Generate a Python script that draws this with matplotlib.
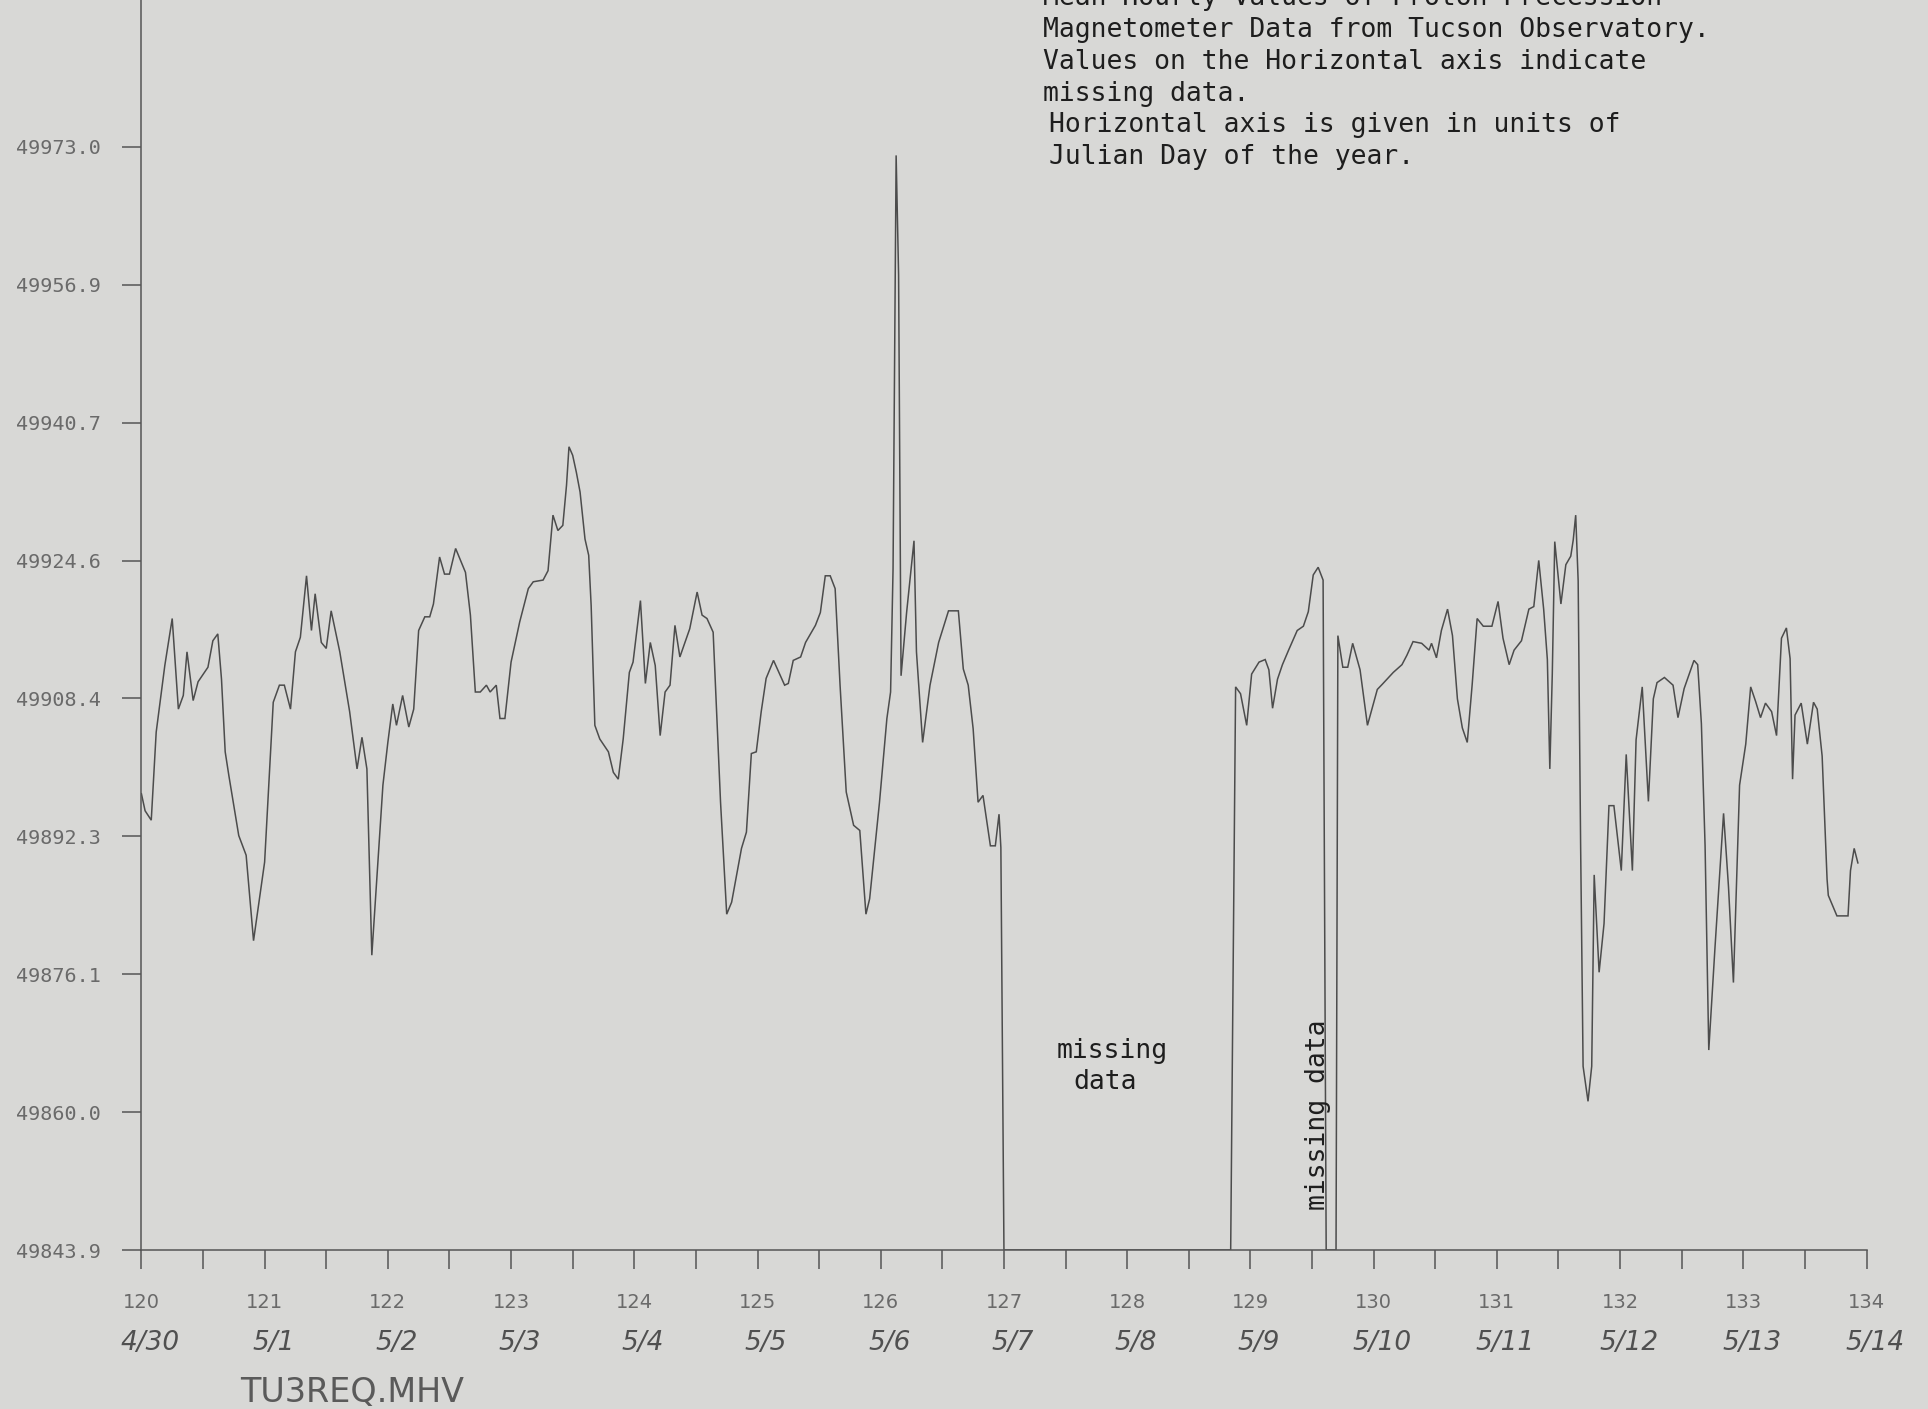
#!/usr/bin/env python3

import matplotlib; matplotlib.use('Agg')
import numpy as np
from matplotlib import pyplot as plt
from matplotlib.ticker import MultipleLocator, FixedLocator

plt.rcParams.update({
    'font.family': 'DejaVu Sans',
    'axes.linewidth': 1.1,
})

PAPER = '#d8d8d6'
PEN = '#4c4c4c'
INK = '#1e1e1e'
GREY = '#6a6a6a'

# Mean hourly field (nT), Tucson proton precession magnetometer.
# NaN = missing hour (the plotter puts those on the horizontal axis).
DAY = [
    120.00, 120.03, 120.08, 120.12, 120.19, 120.25, 120.30, 120.34, 120.37, 120.42,
    120.46, 120.54, 120.58, 120.62, 120.65, 120.68, 120.71, 120.79, 120.85, 120.91,
    121.00, 121.07, 121.12, 121.16, 121.21, 121.25, 121.29, 121.34, 121.38, 121.41,
    121.46, 121.50, 121.54, 121.61, 121.69, 121.75, 121.79, 121.83, 121.87, 121.96,
    122.00, 122.04, 122.07, 122.12, 122.17, 122.21, 122.25, 122.30, 122.34, 122.37,
    122.42, 122.46, 122.50, 122.55, 122.63, 122.67, 122.71, 122.75, 122.80, 122.83,
    122.88, 122.91, 122.95, 123.00, 123.07, 123.14, 123.18, 123.26, 123.30, 123.34,
    123.38, 123.42, 123.45, 123.47, 123.50, 123.53, 123.56, 123.60, 123.63, 123.65,
    123.68, 123.72, 123.79, 123.83, 123.87, 123.91, 123.96, 123.99, 124.05, 124.09,
    124.13, 124.17, 124.21, 124.25, 124.29, 124.33, 124.37, 124.45, 124.51, 124.55,
    124.59, 124.64, 124.67, 124.70, 124.75, 124.79, 124.87, 124.91, 124.95, 124.99,
    125.03, 125.07, 125.13, 125.22, 125.25, 125.29, 125.35, 125.39, 125.47, 125.51,
    125.55, 125.59, 125.63, 125.67, 125.72, 125.78, 125.83, 125.88, 125.91, 125.99,
    126.05, 126.08, 126.10, 126.125, 126.145, 126.165, 126.21, 126.27, 126.29, 126.34,
    126.40, 126.47, 126.55, 126.63, 126.67, 126.71, 126.75, 126.79, 126.83, 126.89,
    126.93, 126.96, 126.975, 127.00, 128.84, 128.88, 128.92, 128.97, 129.01, 129.07,
    129.12, 129.15, 129.18, 129.22, 129.26, 129.31, 129.38, 129.43, 129.47, 129.51,
    129.55, 129.59, 129.615, 129.695, 129.71, 129.75, 129.79, 129.83, 129.89, 129.95,
    130.03, 130.07, 130.16, 130.23, 130.27, 130.32, 130.39, 130.45, 130.47, 130.51,
    130.55, 130.60, 130.64, 130.68, 130.72, 130.76, 130.80, 130.84, 130.89, 130.96,
    131.01, 131.05, 131.10, 131.14, 131.20, 131.26, 131.30, 131.34, 131.38, 131.41,
    131.43, 131.45, 131.47, 131.52, 131.56, 131.60, 131.62, 131.64, 131.66, 131.68,
    131.70, 131.74, 131.77, 131.79, 131.83, 131.87, 131.91, 131.95, 132.01, 132.05,
    132.10, 132.13, 132.18, 132.23, 132.27, 132.30, 132.36, 132.43, 132.47, 132.52,
    132.60, 132.63, 132.66, 132.69, 132.72, 132.77, 132.84, 132.88, 132.92, 132.97,
    133.02, 133.06, 133.10, 133.14, 133.18, 133.23, 133.27, 133.31, 133.35, 133.38,
    133.40, 133.42, 133.47, 133.52, 133.57, 133.60, 133.64, 133.68, 133.69, 133.76,
    133.85, 133.87, 133.90, 133.93,
]
FIELD = [
    49897.3, 49895.3, 49894.2, 49904.5, 49912.3, 49917.8, 49907.2, 49908.8, 49913.9, 49908.2,
    49910.4, 49912.1, 49915.2, 49916.0, 49910.7, 49902.2, 49899.4, 49892.4, 49890.1, 49880.1,
    49889.3, 49908.0, 49910.0, 49910.0, 49907.2, 49913.9, 49915.6, 49922.8, 49916.4, 49920.7,
    49915.0, 49914.3, 49918.7, 49913.9, 49906.9, 49900.2, 49903.9, 49900.2, 49878.4, 49898.3,
    49903.3, 49907.8, 49905.3, 49908.8, 49905.1, 49907.2, 49916.4, 49918.0, 49918.0, 49919.5,
    49925.0, 49923.0, 49923.0, 49926.0, 49923.2, 49918.2, 49909.2, 49909.2, 49910.0, 49909.2,
    49910.0, 49906.1, 49906.1, 49912.7, 49917.4, 49921.3, 49922.1, 49922.3, 49923.4, 49929.9,
    49928.1, 49928.7, 49933.4, 49937.9, 49936.9, 49934.9, 49932.6, 49927.1, 49925.2, 49919.3,
    49905.3, 49903.7, 49902.2, 49899.8, 49899.0, 49903.7, 49911.5, 49912.7, 49919.9, 49910.2,
    49915.0, 49912.3, 49904.1, 49909.2, 49910.0, 49917.0, 49913.3, 49916.6, 49920.9, 49918.2,
    49917.8, 49916.2, 49906.1, 49896.3, 49883.2, 49884.6, 49890.9, 49892.8, 49902.0, 49902.2,
    49906.9, 49910.8, 49912.9, 49910.0, 49910.2, 49912.9, 49913.3, 49915.0, 49917.0, 49918.5,
    49922.8, 49922.8, 49921.3, 49910.0, 49897.5, 49893.6, 49893.0, 49883.2, 49885.0, 49896.3,
    49906.1, 49909.2, 49923.6, 49972.0, 49958.0, 49911.1, 49918.5, 49926.9, 49913.9, 49903.3,
    49910.0, 49915.0, 49918.7, 49918.7, 49911.9, 49910.0, 49904.9, 49896.3, 49897.1, 49891.2,
    49891.2, 49894.9, 49891.0, np.nan, np.nan, 49909.8, 49909.0, 49905.3, 49911.3, 49912.7,
    49913.0, 49911.8, 49907.3, 49910.7, 49912.4, 49914.1, 49916.4, 49916.9, 49918.6, 49922.9,
    49923.8, 49922.3, np.nan, np.nan, 49915.8, 49912.1, 49912.1, 49914.9, 49911.8, 49905.3,
    49909.5, 49910.1, 49911.5, 49912.4, 49913.5, 49915.1, 49914.9, 49914.1, 49914.9, 49913.2,
    49916.4, 49918.9, 49915.8, 49908.4, 49905.0, 49903.3, 49910.1, 49917.8, 49916.9, 49916.9,
    49919.8, 49915.5, 49912.4, 49914.1, 49915.2, 49918.9, 49919.2, 49924.6, 49918.9, 49913.0,
    49900.2, 49911.3, 49926.8, 49919.5, 49924.1, 49925.1, 49927.0, 49929.9, 49922.2, 49891.2,
    49865.4, 49861.3, 49865.4, 49887.8, 49876.4, 49882.1, 49895.9, 49895.9, 49888.3, 49901.9,
    49888.3, 49903.6, 49909.8, 49896.4, 49908.4, 49910.3, 49910.9, 49910.0, 49906.2, 49909.6,
    49912.9, 49912.4, 49905.5, 49891.2, 49867.3, 49879.2, 49895.0, 49886.4, 49875.2, 49898.3,
    49903.1, 49909.8, 49908.1, 49906.2, 49907.9, 49906.9, 49904.1, 49915.5, 49916.7, 49913.1,
    49899.0, 49906.5, 49907.9, 49903.1, 49908.0, 49907.2, 49901.7, 49887.3, 49885.4, 49883.0,
    49883.0, 49888.3, 49890.9, 49889.2,
]

Y_TICK_LABELS = ['49843.9', '49860.0', '49876.1', '49892.3', '49908.4',
                 '49924.6', '49940.7', '49956.9', '49973.0']
Y_MIN, Y_MAX = 49843.9, 49973.0
X_DAYS = list(range(120, 135))
DATES = ['4/30', '5/1', '5/2', '5/3', '5/4', '5/5', '5/6', '5/7',
         '5/8', '5/9', '5/10', '5/11', '5/12', '5/13', '5/14']

NOTE = ['Mean Hourly Values of Proton Precession',
        'Magnetometer Data from Tucson Observatory.',
        'Values on the Horizontal axis indicate',
        'missing data.']
NOTE2 = ['Horizontal axis is given in units of',
         'Julian Day of the year.']

# Plot -----------------------------------------------------------------------
W, H = 1928, 1409
fig = plt.figure(figsize=(W / 100, H / 100), dpi=100, facecolor=PAPER)
ax = fig.add_axes([141.4 / W, 1 - 1250 / H, 1725.1 / W, 1250 / H])
ax.set_facecolor(PAPER)

field = np.array(FIELD, dtype=float)
field = np.where(np.isnan(field), Y_MIN, field)
ax.plot(DAY, field, color=PEN, lw=1.1, solid_joinstyle='miter')

ax.set_xlim(120, 134)
ax.set_ylim(Y_MIN, Y_MIN + 1250 / 8.545)

for side in ['top', 'right']:
    ax.spines[side].set_visible(False)
for side in ['left', 'bottom']:
    ax.spines[side].set_color('#555555')

ax.yaxis.set_major_locator(FixedLocator(np.linspace(Y_MIN, Y_MAX, len(Y_TICK_LABELS))))
ax.set_yticklabels(Y_TICK_LABELS, family='DejaVu Sans Mono', fontsize=14.5,
                   color=GREY)
ax.tick_params(axis='y', direction='out', length=13.5, width=1.1,
               color='#555555', pad=16)

ax.set_xticks(X_DAYS)
ax.set_xticklabels([str(d) for d in X_DAYS],
                   family=['Liberation Sans Narrow', 'DejaVu Sans'],
                   fontsize=14, color=GREY)
ax.xaxis.set_minor_locator(MultipleLocator(0.5))
ax.tick_params(axis='x', which='both', direction='out', length=14, width=1.1,
               color='#555555', pad=17)

# hand-written calendar dates under the day numbers
for d, s in zip(X_DAYS, DATES):
    fig.text((141.4 + (d - 120 + 0.07) * 123.22) / W, 1 - 1343 / H, s,
             ha='center', va='center', fontsize=19, style='italic',
             color='#505050')

fig.text(240 / W, 1 - 1393 / H, 'TU3REQ.MHV', ha='left', va='center',
         fontsize=24, color='#5a5a5a')

mono = dict(family='DejaVu Sans Mono', fontsize=19, color=INK,
            ha='left', va='center')
for i, line in enumerate(NOTE):
    fig.text(1043 / W, 1 - (-2 + 31.9 * i) / H, line, **mono)
for i, line in enumerate(NOTE2):
    fig.text(1049 / W, 1 - (125.5 + 31.9 * i) / H, line, **mono)

fig.text(1057 / W, 1 - 1051 / H, 'missing', **mono)
fig.text(1073 / W, 1 - 1082 / H, 'data', **mono)
fig.text(1318 / W, 1 - 1115 / H, 'missing data', rotation=90,
         **{**mono, 'ha': 'center'})

plt.savefig('out.png', dpi=100, facecolor=PAPER)
plt.close()
